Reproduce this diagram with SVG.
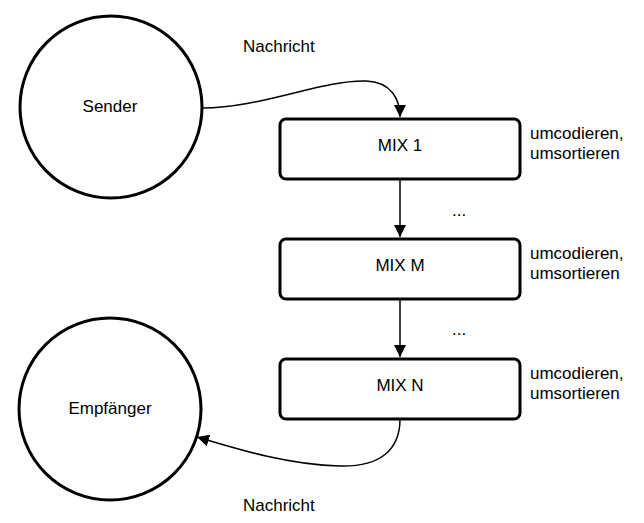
<svg xmlns="http://www.w3.org/2000/svg" width="644" height="523" viewBox="0 0 644 523">
<defs>
<marker id="arr" markerWidth="12" markerHeight="12" refX="10" refY="5" orient="auto" markerUnits="userSpaceOnUse" viewBox="0 0 10 10">
<path d="M0,0 L10,5 L0,10 z" fill="#000"/>
</marker>
<style>
.node{fill:#fff;stroke:#000;stroke-width:3}
.lbl{font-family:"Liberation Sans",Arial,sans-serif;font-size:17px;fill:#000}
.c{text-anchor:middle}
.edge{fill:none;stroke:#000;stroke-width:1.5}
</style>
</defs>
<rect width="644" height="523" fill="#fff"/>
<g id="connectors">
<path class="edge" d="M202,108 C262,108 320,80 366,81 C392,82 400,100 400,117" marker-end="url(#arr)"/>
<path class="edge" d="M400,179 L400,237" marker-end="url(#arr)"/>
<path class="edge" d="M400,299 L400,357" marker-end="url(#arr)"/>
<path class="edge" d="M400,419 C400,450 380,467 340,466 C290,465 240,450 197,437" marker-end="url(#arr)"/>
<text class="lbl" x="243" y="52">Nachricht</text>
<text class="lbl" x="243" y="511">Nachricht</text>
</g>
<g id="sender">
<circle class="node" cx="111" cy="107" r="91"/>
<text class="lbl c" x="110" y="112">Sender</text>
</g>
<g id="empfaenger">
<circle class="node" cx="110" cy="409" r="91"/>
<text class="lbl c" x="110" y="414">Empfänger</text>
</g>
<g id="mix1">
<rect class="node" x="280" y="119" width="240" height="60" rx="6"/>
<text class="lbl c" x="400" y="151">MIX 1</text>
<text class="lbl" x="530" y="139">umcodieren,</text>
<text class="lbl" x="530" y="159">umsortieren</text>
</g>
<g id="dots1"><text class="lbl" x="452" y="216">...</text></g>
<g id="mixm">
<rect class="node" x="280" y="239" width="240" height="60" rx="6"/>
<text class="lbl c" x="400" y="271">MIX M</text>
<text class="lbl" x="530" y="259">umcodieren,</text>
<text class="lbl" x="530" y="279">umsortieren</text>
</g>
<g id="dots2"><text class="lbl" x="452" y="335">...</text></g>
<g id="mixn">
<rect class="node" x="280" y="359" width="240" height="60" rx="6"/>
<text class="lbl c" x="400" y="391">MIX N</text>
<text class="lbl" x="530" y="379">umcodieren,</text>
<text class="lbl" x="530" y="399">umsortieren</text>
</g>
</svg>
